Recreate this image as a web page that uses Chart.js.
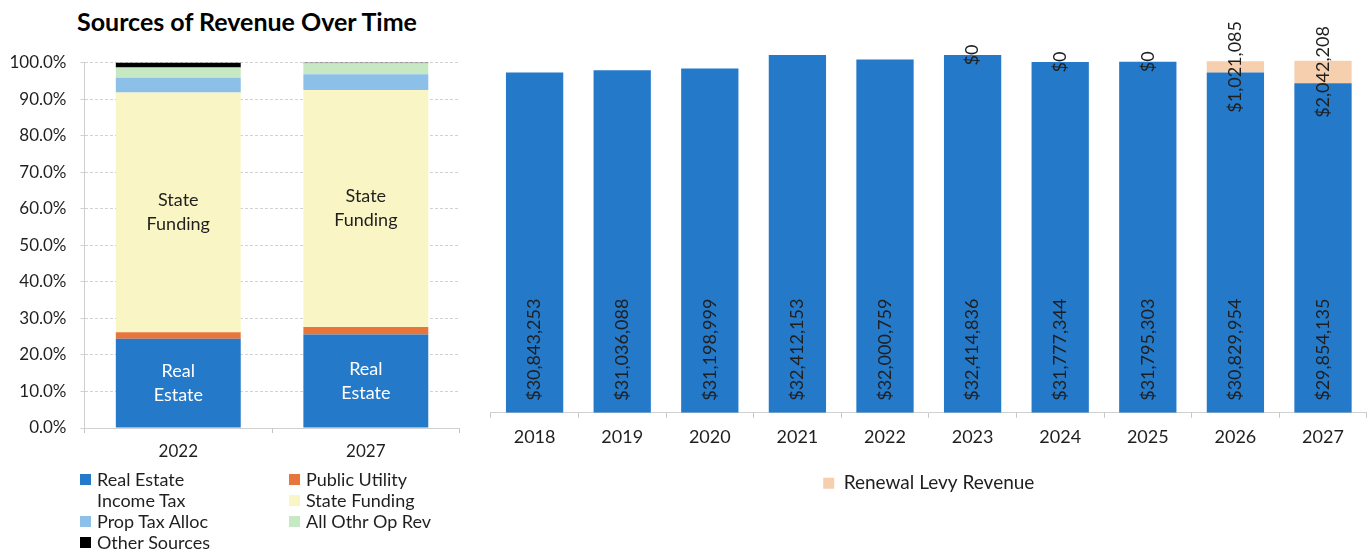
<!DOCTYPE html>
<html>
<head>
<meta charset="utf-8">
<title>Sources of Revenue Over Time</title>
<script src="https://cdn.jsdelivr.net/npm/chart.js@4.4.1/dist/chart.umd.min.js"></script>
<style>
  html, body { margin: 0; padding: 0; background: #fff; }
  body { width: 1369px; height: 554px; position: relative; overflow: hidden; font-family: Lato, "Open Sans", sans-serif; color: #1f1f1f; }
  #mixTitle { position: absolute; left: 47px; width: 400px; top: 6px; line-height: 30px; text-align: center; font-weight: bold; font-size: 25px; color: #000; }
  #mixWrap { position: absolute; left: 0; top: 0; width: 494px; height: 470px; }
  #levyWrap { position: absolute; left: 470px; top: 0; width: 899px; height: 554px; }
  #mixLegend { position: absolute; left: 80px; top: 469px; display: grid; grid-template-columns: 209px 200px; font-size: 18px; line-height: 21px; color: #1f1f1f; }
  #mixLegend .item { display: flex; align-items: center; white-space: nowrap; }
  #mixLegend .sw { width: 11px; height: 11px; margin-right: 6px; flex: none; }
</style>
</head>
<body>
<div id="mixTitle">Sources of Revenue Over Time</div>
<div id="mixWrap"><canvas id="mixChart" width="494" height="470"></canvas></div>
<div id="mixLegend"></div>
<div id="levyWrap"><canvas id="levyChart" width="899" height="554"></canvas></div>

<script>
// ---- Revenue mix (share of total, %) ----
const mixYears = ['2022', '2027'];
const realEstate = [24.4, 25.6];
const publicUtility = [1.8, 2.0];
const incomeTax = [0, 0];
const stateFunding = [65.6, 64.9];
const propTaxAlloc = [4.0, 4.3];
const allOthrOpRev = [2.8, 3.0];
const otherSources = [1.4, 0.2];
const pctTickStep = 10;

// ---- Revenue by fiscal year ($) ----
const levyYears = ['2018', '2019', '2020', '2021', '2022', '2023', '2024', '2025', '2026', '2027'];
const baseRevenue = [30843253, 31036088, 31198999, 32412153, 32000759, 32414836, 31777344, 31795303, 30829954, 29854135];
const renewalLevy = [null, null, null, null, null, 0, 0, 0, 1021085, 2042208];

const BLUE = '#2479c8';
const INK = '#1f1f1f';
const FONT = 'Lato';

function money(v) { return '$' + Number(v).toLocaleString('en-US'); }

// Two-line captions centred inside selected stacked segments
const segmentCaptions = {
  id: 'segmentCaptions',
  afterDatasetsDraw(chart) {
    const ctx = chart.ctx;
    chart.data.datasets.forEach((ds, i) => {
      if (!ds.caption) return;
      chart.getDatasetMeta(i).data.forEach(bar => {
        const cy = (bar.y + bar.base) / 2;
        ctx.save();
        ctx.fillStyle = ds.captionColor;
        ctx.font = '18px ' + FONT;
        ctx.textAlign = 'center';
        ctx.textBaseline = 'middle';
        const n = ds.caption.length;
        ds.caption.forEach((line, k) => ctx.fillText(line, bar.x, cy + (k - (n - 1) / 2) * 24));
        ctx.restore();
      });
    });
  }
};

// Vertical value labels: base series at the bar foot, levy series centred on its segment
const verticalValues = {
  id: 'verticalValues',
  afterDatasetsDraw(chart) {
    const ctx = chart.ctx;
    chart.data.datasets.forEach((ds, i) => {
      chart.getDatasetMeta(i).data.forEach((bar, j) => {
        const v = ds.data[j];
        if (v === null || v === undefined) return;
        ctx.save();
        ctx.fillStyle = INK;
        ctx.font = '18px ' + FONT;
        ctx.textBaseline = 'middle';
        if (i === 0) {
          ctx.translate(bar.x, bar.base - 12);
          ctx.rotate(-Math.PI / 2);
          ctx.textAlign = 'left';
          ctx.fillText(money(v), 0, 0);
        } else {
          ctx.translate(bar.x, (bar.y + bar.base) / 2);
          ctx.rotate(-Math.PI / 2);
          ctx.textAlign = 'center';
          ctx.fillText(money(v), 0, 0);
        }
        ctx.restore();
      });
    });
  }
};

function buildCharts() {
  Chart.defaults.font.family = FONT;
  Chart.defaults.color = INK;

  const mixSeries = [
    { label: 'Real Estate', data: realEstate, backgroundColor: BLUE, caption: ['Real', 'Estate'], captionColor: '#ffffff' },
    { label: 'Public Utility', data: publicUtility, backgroundColor: '#e8763b' },
    { label: 'Income Tax', data: incomeTax, backgroundColor: '#ffffff' },
    { label: 'State Funding', data: stateFunding, backgroundColor: '#faf5c4', caption: ['State', 'Funding'], captionColor: INK },
    { label: 'Prop Tax Alloc', data: propTaxAlloc, backgroundColor: '#8dc0e8' },
    { label: 'All Othr Op Rev', data: allOthrOpRev, backgroundColor: '#c6e8c2' },
    { label: 'Other Sources', data: otherSources, backgroundColor: '#000000' }
  ];
  mixSeries.forEach(s => { s.barPercentage = 1; s.categoryPercentage = 0.666; s.borderWidth = 0; });

  new Chart(document.getElementById('mixChart'), {
    type: 'bar',
    data: { labels: mixYears, datasets: mixSeries },
    plugins: [segmentCaptions],
    options: {
      responsive: false,
      animation: false,
      devicePixelRatio: 1,
      layout: { padding: { left: 0, right: 34.4, top: 62.5, bottom: 0 } },
      plugins: { legend: { display: false }, tooltip: { enabled: false } },
      scales: {
        x: {
          stacked: true,
          grid: { display: true, drawOnChartArea: false, offset: true, tickLength: 5, color: '#c4c4c4' },
          border: { display: true, color: '#d0d0d0' },
          ticks: { font: { size: 17 }, color: INK, padding: 8 },
          afterFit(s) { s.height = 42; }
        },
        y: {
          stacked: true,
          min: 0,
          max: 100,
          ticks: { stepSize: pctTickStep, font: { size: 17 }, color: INK, padding: 14, callback: v => Number(v).toFixed(1) + '%' },
          grid: { color: '#d2d2d2', tickLength: 4 },
          border: { display: true, color: '#cfcfcf', dash: [3, 2] },
          afterFit(s) { s.width = 84.5; }
        }
      }
    }
  });

  // Legend laid out in two fixed columns
  const legend = document.getElementById('mixLegend');
  mixSeries.forEach(s => {
    const item = document.createElement('div');
    item.className = 'item';
    const sw = document.createElement('span');
    sw.className = 'sw';
    sw.style.background = s.backgroundColor;
    const tx = document.createElement('span');
    tx.textContent = s.label;
    item.appendChild(sw);
    item.appendChild(tx);
    legend.appendChild(item);
  });

  new Chart(document.getElementById('levyChart'), {
    type: 'bar',
    data: {
      labels: levyYears,
      datasets: [
        { label: 'Operating Revenue', data: baseRevenue, backgroundColor: BLUE, borderWidth: 0, barPercentage: 1, categoryPercentage: 0.654 },
        { label: 'Renewal Levy Revenue', data: renewalLevy, backgroundColor: '#f6cfae', borderWidth: 0, barPercentage: 1, categoryPercentage: 0.654 }
      ]
    },
    plugins: [verticalValues],
    options: {
      responsive: false,
      animation: false,
      devicePixelRatio: 1,
      layout: { padding: { left: 20.8, right: 2.2, top: 26.5, bottom: 51.2 } },
      plugins: {
        tooltip: { enabled: false },
        legend: {
          position: 'bottom',
          labels: {
            font: { size: 19 },
            color: INK,
            boxWidth: 11,
            boxHeight: 11,
            padding: 10,
            filter: item => item.datasetIndex === 1
          }
        }
      },
      scales: {
        x: {
          stacked: true,
          grid: { display: true, drawOnChartArea: false, offset: true, tickLength: 5, color: '#c8c8c8' },
          border: { display: true, color: '#d0d0d0' },
          ticks: { font: { size: 18 }, color: INK, padding: 9 },
          afterFit(s) { s.height = 51; }
        },
        y: {
          stacked: true,
          display: false,
          min: 0,
          max: 35000000
        }
      }
    }
  });
}

if (document.fonts && document.fonts.load) {
  Promise.all([document.fonts.load('18px Lato'), document.fonts.load('bold 25px Lato')]).then(buildCharts, buildCharts);
} else {
  buildCharts();
}
</script>
</body>
</html>
